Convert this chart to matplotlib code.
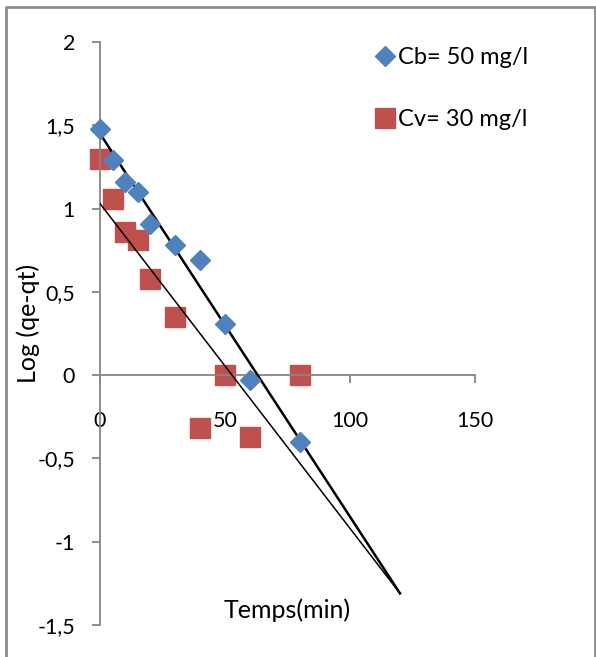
import matplotlib
matplotlib.use("Agg")
import matplotlib.pyplot as plt
from matplotlib.lines import Line2D
from matplotlib.ticker import FuncFormatter

# time (min)
temps = [0, 5, 10, 15, 20, 30, 40, 50, 60, 80]
# log(qe-qt) series
cb_50 = [1.48, 1.29, 1.16, 1.10, 0.91, 0.78, 0.69, 0.31, -0.03, -0.40]
cv_30 = [1.30, 1.06, 0.86, 0.81, 0.58, 0.35, -0.32, 0.00, -0.37, 0.00]

# linear trend lines (extended forward)
trend_x = [0, 120]
trend_cb = [1.45, -1.31]
trend_cv = [1.03, -1.31]

x_ticks = [0, 50, 100, 150]
y_ticks = [-1.5, -1, -0.5, 0, 0.5, 1, 1.5, 2]

W, H = 596, 657
plt.rcParams['font.family'] = ['Lato', 'DejaVu Sans']
fs = 15.5
fs_title = 18
fs_leg = 17

fig = plt.figure(figsize=(W / 100, H / 100), dpi=100)
ax = fig.add_axes([100 / W, 1 - 625 / H, 375 / W, 583 / H])
ax.set_xlim(0, 150)
ax.set_ylim(-1.5, 2)

grey = '#868686'
for s in ['top', 'right']:
    ax.spines[s].set_visible(False)
ax.spines['bottom'].set_position(('data', 0))
for s in ['left', 'bottom']:
    ax.spines[s].set_color(grey)
    ax.spines[s].set_linewidth(1.3)

ax.set_xticks(x_ticks)
ax.set_yticks(y_ticks)
fmt = FuncFormatter(lambda v, p: ('%g' % v).replace('.', ','))
ax.xaxis.set_major_formatter(fmt)
ax.yaxis.set_major_formatter(fmt)
ax.tick_params(axis='both', direction='out', length=6, width=1.3, color=grey,
               labelsize=fs, labelcolor='black')
ax.tick_params(axis='x', pad=20)
ax.tick_params(axis='y', pad=12)

ax.plot(trend_x, trend_cb, color='black', lw=1.8, zorder=3)
ax.plot(trend_x, trend_cv, color='black', lw=1.1, zorder=3)

ax.plot(temps, cb_50, linestyle='none', marker='D', markersize=10.5,
        color='#4F81BD', label='Cb= 50 mg/l', zorder=4, clip_on=False)
ax.plot(temps, cv_30, linestyle='none', marker='s', markersize=14,
        color='#C0504D', label='Cv= 30 mg/l', zorder=2, clip_on=False)

ax.legend(loc='upper left', bbox_to_anchor=(377 / W, 1 - 47 / H),
          bbox_transform=fig.transFigure, frameon=False, fontsize=fs_leg,
          handlelength=0.7, handletextpad=0.2, labelspacing=1.75,
          borderpad=0, borderaxespad=0)

fig.text(287 / W, 1 - 610 / H, 'Temps(min)', ha='center', va='center', fontsize=fs_title)
fig.text(28 / W, 1 - 323 / H, 'Log (qe-qt)', ha='center', va='center',
         rotation=90, fontsize=fs_title)

# chart-area border (left, top, right)
bx = [5.5 / W, 5.5 / W, 594.5 / W, 594.5 / W]
by = [0, 1 - 7 / H, 1 - 7 / H, 0]
fig.add_artist(Line2D(bx, by, transform=fig.transFigure, color='#8c8c8c', lw=2))

fig.savefig('out.png', dpi=100)
